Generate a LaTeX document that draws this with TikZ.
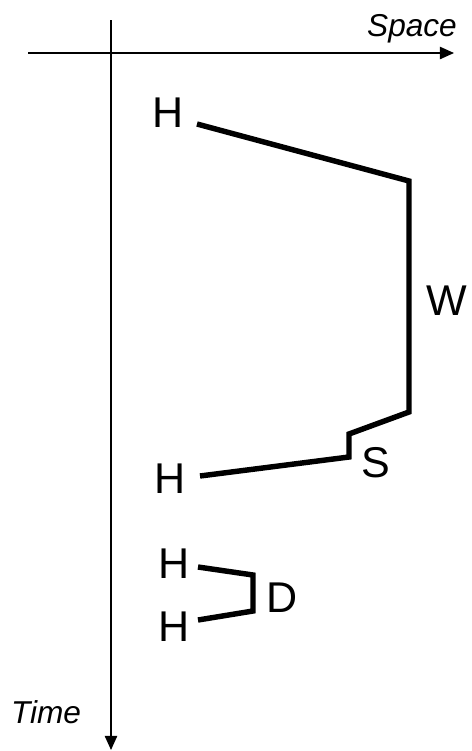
\documentclass[tikz,border=0pt]{standalone}
\usepackage{fontspec}
\setmainfont{Liberation Sans}
\usetikzlibrary{arrows.meta, positioning}
\tikzstyle{diagram}=[x=0.02cm, y=-0.02cm, font=\fontsize{24.5}{28}\selectfont]
\tikzstyle{axis}=[line width=0.8pt, -{Triangle[length=8pt, width=7pt]}]
\tikzstyle{worldline}=[line width=3.1pt, line join=miter]
\tikzstyle{axislabel}=[font=\fontsize{18}{21}\selectfont\itshape]

\begin{document}
\begin{tikzpicture}[diagram]
  \useasboundingbox (0,0) rectangle (472,751);
  % axes
  \coordinate (xstart) at (28,53);
  \coordinate (xend) at (454,53);
  \coordinate (tstart) at (111,20);
  \coordinate (tend) at (111,750);
  \draw[axis] (xstart) -- (xend);
  \draw[axis] (tstart) -- (tend);
  \node[axislabel] (space) at (412,29) {Space};
  \node[axislabel] (time) at (46,712) {Time};
  % labels
  \node (h1) at (168,113) {H};
  \node (h2) at (170,479) {H};
  \node (h3) at (174,564) {H};
  \node (h4) at (174,627) {H};
  \node (w) at (447,301) {W};
  \node (s) at (376,463) {S};
  \node (d) at (282,598) {D};
  % long world line
  \coordinate (a1) at (197,124);
  \coordinate (a2) at (409,181);
  \coordinate (a3) at (409,412);
  \coordinate (a4) at (349,434);
  \coordinate (a5) at (349,457);
  \coordinate (a6) at (200,476);
  \draw[worldline] (a1) -- (a2) -- (a3) -- (a4) -- (a5) -- (a6);
  % short bracket
  \coordinate (b1) at (198,567);
  \coordinate (b2) at (253,575);
  \coordinate (b3) at (253,611);
  \coordinate (b4) at (198,620);
  \draw[worldline] (b1) -- (b2) -- (b3) -- (b4);
\end{tikzpicture}
\end{document}
